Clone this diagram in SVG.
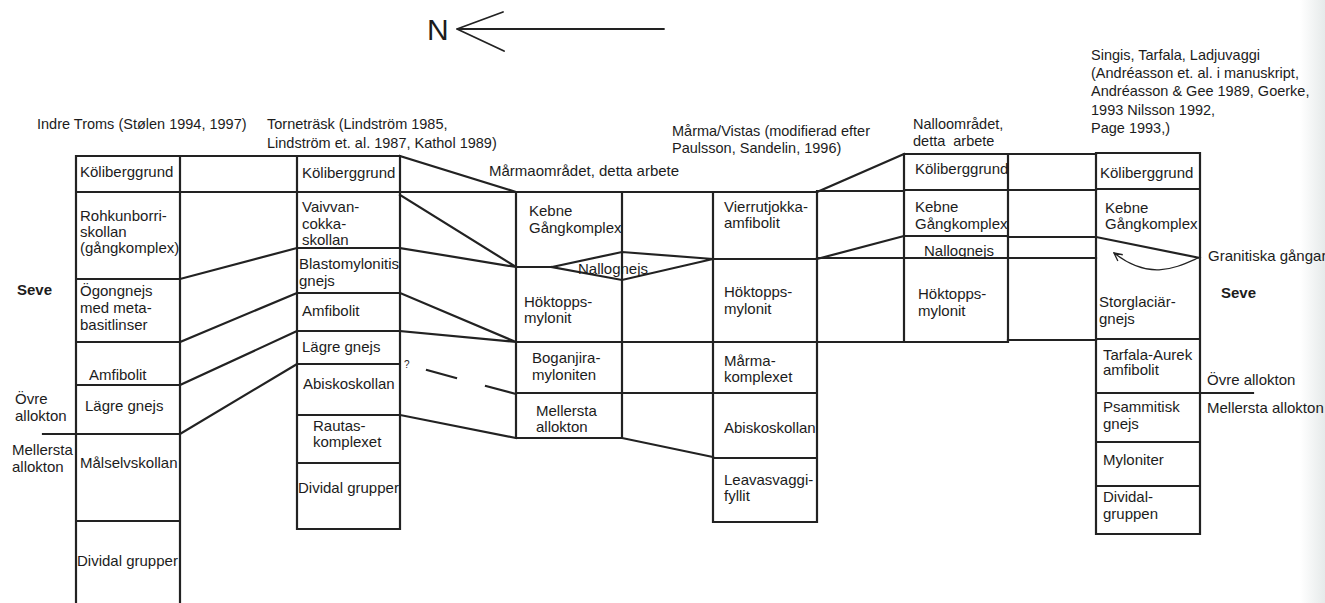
<svg xmlns="http://www.w3.org/2000/svg" width="1325" height="603" viewBox="0 0 1325 603">
  <style>
    .ln { stroke: #222; stroke-width: 2.2; fill: none; stroke-linecap: square; }
    .thin { stroke: #222; stroke-width: 1.2; fill: none; stroke-linecap: round; }
    .t { font-family: "Liberation Sans", Arial, Helvetica, sans-serif; font-size: 15px; fill: #1c1c1c; }
    .h { font-size: 14.5px; }
    .b { font-weight: bold; }
    .q { font-size: 10px; }
  </style>
  <defs>
    <clipPath id="clipC1"><rect x="77" y="150" width="102" height="460"/></clipPath>
    <clipPath id="clipC2"><rect x="298" y="150" width="101" height="380"/></clipPath>
    <clipPath id="clipC3"><rect x="517" y="190" width="104" height="250"/></clipPath>
    <marker id="openHead" viewBox="0 0 10 10" refX="9" refY="5" markerWidth="10" markerHeight="10" orient="auto" markerUnits="userSpaceOnUse">
      <path d="M1,1 L9,5 L1,9" fill="none" stroke="#222" stroke-width="1.3"/>
    </marker>
    <linearGradient id="edgeShade" x1="0" x2="1" y1="0" y2="0">
      <stop offset="0" stop-color="#ffffff"/>
      <stop offset="1" stop-color="#e6eaea"/>
    </linearGradient>
  </defs>

  <rect width="1325" height="603" fill="#ffffff"/>
  <rect x="1300" y="0" width="25" height="603" fill="url(#edgeShade)"/>

  <!-- north arrow -->
  <g id="north">
    <text class="t" x="427" y="40" style="font-size:30px">N</text>
    <path class="ln" d="M457,29 H664 M503,12 L457,29 L504,51" style="stroke-width:1.8;stroke-linecap:round;stroke-linejoin:round"/>
  </g>

  <!-- column headings -->
  <g id="headings">
    <text class="t h" x="37" y="129">Indre Troms (Stølen 1994, 1997)</text>
    <text class="t h" x="267" y="129">Torneträsk (Lindström 1985,<tspan x="267" dy="19">Lindström et. al. 1987, Kathol 1989)</tspan></text>
    <text class="t" x="489" y="176">Mårmaområdet, detta arbete</text>
    <text class="t h" x="672" y="136">Mårma/Vistas (modifierad efter<tspan x="672" dy="17">Paulsson, Sandelin, 1996)</tspan></text>
    <text class="t h" x="913" y="129">Nalloområdet,<tspan x="913" dy="17">detta&#160; arbete</tspan></text>
    <text class="t h" x="1091" y="60">Singis, Tarfala, Ladjuvaggi<tspan x="1091" dy="18.2">(Andréasson et. al. i manuskript,</tspan><tspan x="1091" dy="18.2">Andréasson &amp; Gee 1989, Goerke,</tspan><tspan x="1091" dy="18.2">1993 Nilsson 1992,</tspan><tspan x="1091" dy="18.2">Page 1993,)</tspan></text>
  </g>

  <!-- tectonic unit labels beside the columns -->
  <g id="unit-labels">
    <text class="t b" x="17" y="295">Seve</text>
    <text class="t" x="15" y="404">Övre<tspan x="15" dy="17">allokton</tspan></text>
    <text class="t" x="12" y="455">Mellersta<tspan x="12" dy="17">allokton</tspan></text>
    <path class="ln" d="M43,434 H76"/>
    <text class="t b" x="1221" y="298">Seve</text>
    <text class="t" x="1207" y="385">Övre allokton</text>
    <text class="t" x="1207" y="413">Mellersta allokton</text>
    <path class="ln" d="M1200,393 H1253"/>
  </g>

  <!-- Indre Troms column -->
  <g id="col-indre-troms">
    <path class="ln" d="M76,156 V610 M180,156 V610 M76,156 H180 M76,192 H180 M76,279 H180 M76,342 H180 M76,385 H180 M76,434 H180 M76,521 H180"/>
    <g clip-path="url(#clipC1)">
      <g id="it-koliberggrund"><text class="t" x="80" y="177">Köliberggrund</text></g>
      <g id="it-rohkunborri"><text class="t" x="80" y="221">Rohkunborri-<tspan x="80" dy="16">skollan</tspan><tspan x="80" dy="16">(gångkomplex)</tspan></text></g>
      <g id="it-ogongnejs"><text class="t" x="80" y="296">Ögongnejs<tspan x="80" dy="17">med meta-</tspan><tspan x="80" dy="17">basitlinser</tspan></text></g>
      <g id="it-amfibolit"><text class="t" x="89" y="380">Amfibolit</text></g>
      <g id="it-lagre-gnejs"><text class="t" x="85" y="411">Lägre gnejs</text></g>
      <g id="it-malselvskollan"><text class="t" x="80" y="468">Målselvskollan</text></g>
      <g id="it-dividal"><text class="t" x="77" y="566">Dividal grupper</text></g>
    </g>
  </g>

  <!-- Torneträsk column -->
  <g id="col-tornetrask">
    <path class="ln" d="M297,156 V529 M400,156 V529 M297,156 H400 M297,192 H400 M297,248 H400 M297,293 H400 M297,331 H400 M297,364 H400 M297,415 H400 M297,463 H400 M297,529 H400"/>
    <g clip-path="url(#clipC2)">
      <g id="tt-koliberggrund"><text class="t" x="302" y="178">Köliberggrund</text></g>
      <g id="tt-vaivvancokka"><text class="t" x="302" y="212">Vaivvan-<tspan x="302" dy="17">cokka-</tspan><tspan x="302" dy="16">skollan</tspan></text></g>
      <g id="tt-blastomylonitisk"><text class="t" x="299" y="269">Blastomylonitisk<tspan x="299" dy="17">gnejs</tspan></text></g>
      <g id="tt-amfibolit"><text class="t" x="302" y="316">Amfibolit</text></g>
      <g id="tt-lagre-gnejs"><text class="t" x="302" y="352">Lägre gnejs</text></g>
      <g id="tt-abiskoskollan"><text class="t" x="303" y="389">Abiskoskollan</text></g>
      <g id="tt-rautas"><text class="t" x="313" y="431">Rautas-<tspan x="313" dy="16">komplexet</tspan></text></g>
      <g id="tt-dividal"><text class="t" x="298" y="493">Dividal grupper</text></g>
    </g>
  </g>

  <!-- Mårmaområdet column -->
  <g id="col-marmaomradet">
    <path class="ln" d="M516,192 V438 M622,192 V438 M516,192 H622 M516,267 H552 M516,342 H622 M516,393 H622 M516,438 H622"/>
    <g clip-path="url(#clipC3)">
      <g id="ma-kebne"><text class="t" x="529" y="216">Kebne<tspan x="529" dy="17">Gångkomplex</tspan></text></g>
      <g id="ma-hoktopps"><text class="t" x="524" y="307">Höktopps-<tspan x="524" dy="16">mylonit</tspan></text></g>
      <g id="ma-boganjira"><text class="t" x="532" y="363">Boganjira-<tspan x="532" dy="17">myloniten</tspan></text></g>
      <g id="ma-mellersta"><text class="t" x="536" y="416">Mellersta<tspan x="536" dy="16">allokton</tspan></text></g>
    </g>
    <g id="ma-nallognejs">
      <path class="ln" d="M552,267 L622,252 L713,259 M552,267 L622,280 L713,259"/>
      <text class="t" x="578" y="274">Nallognejs</text>
    </g>
  </g>

  <!-- Mårma/Vistas column -->
  <g id="col-marma-vistas">
    <path class="ln" d="M713,192 V522 M817,192 V522 M713,192 H817 M713,259 H817 M713,342 H817 M713,393 H817 M713,458 H817 M713,522 H817"/>
    <g id="mv-vierrutjokka"><text class="t" x="724" y="212">Vierrutjokka-<tspan x="724" dy="16">amfibolit</tspan></text></g>
    <g id="mv-hoktopps"><text class="t" x="724" y="297">Höktopps-<tspan x="724" dy="17">mylonit</tspan></text></g>
    <g id="mv-marmakomplexet"><text class="t" x="724" y="366">Mårma-<tspan x="724" dy="16">komplexet</tspan></text></g>
    <g id="mv-abiskoskollan"><text class="t" x="724" y="433">Abiskoskollan</text></g>
    <g id="mv-leavasvaggi"><text class="t" x="724" y="485">Leavasvaggi-<tspan x="724" dy="16">fyllit</tspan></text></g>
  </g>

  <!-- Nalloområdet column -->
  <g id="col-nalloomradet">
    <path class="ln" d="M904,154 V342 M1008,154 V342 M904,154 H1008 M904,190 H1008 M904,236 H1008 M904,258 H1008 M904,342 H1008"/>
    <g id="na-koliberggrund"><text class="t" x="915" y="174">Köliberggrund</text></g>
    <g id="na-kebne"><text class="t" x="915" y="212">Kebne<tspan x="915" dy="17">Gångkomplex</tspan></text></g>
    <g id="na-nallognejs"><text class="t" x="924" y="256">Nallognejs</text></g>
    <g id="na-hoktopps"><text class="t" x="918" y="299">Höktopps-<tspan x="918" dy="17">mylonit</tspan></text></g>
  </g>

  <!-- Singis / Tarfala / Ladjuvaggi column -->
  <g id="col-singis">
    <path class="ln" d="M1096,153 V534 M1200,153 V534 M1096,153 H1200 M1096,189 H1200 M1096,237 L1200,258 M1096,339 H1200 M1096,393 H1200 M1096,442 H1200 M1096,486 H1200 M1096,534 H1200"/>
    <g id="si-koliberggrund"><text class="t" x="1100" y="178">Köliberggrund</text></g>
    <g id="si-kebne"><text class="t" x="1105" y="213">Kebne<tspan x="1105" dy="16">Gångkomplex</tspan></text></g>
    <g id="si-storglaciar"><text class="t" x="1099" y="307">Storglaciär-<tspan x="1099" dy="17">gnejs</tspan></text></g>
    <g id="si-tarfala-aurek"><text class="t" x="1103" y="360">Tarfala-Aurek<tspan x="1103" dy="15">amfibolit</tspan></text></g>
    <g id="si-psammitisk"><text class="t" x="1103" y="412">Psammitisk<tspan x="1103" dy="17">gnejs</tspan></text></g>
    <g id="si-myloniter"><text class="t" x="1103" y="465">Myloniter</text></g>
    <g id="si-dividal"><text class="t" x="1103" y="502">Dividal-<tspan x="1103" dy="17">gruppen</tspan></text></g>
    <g id="si-granitiska">
      <text class="t" x="1208" y="261">Granitiska gångar</text>
      <path class="thin" d="M1198,258 C1175,268 1150,281 1114,253" marker-end="url(#openHead)"/>
    </g>
  </g>

  <!-- correlation lines between the columns -->
  <g id="connectors">
    <path class="ln" d="M180,156 H297 M180,192 H297 M180,279 L297,248 M180,342 L297,293 M180,385 L297,331 M180,434 L297,364"/>
    <path class="ln" d="M400,156 L516,192 M400,192 H516 M400,195 L516,267 M400,248 L516,267 M400,293 L516,342 M400,331 L516,342 M400,415 L516,438"/>
    <path class="ln" d="M427,370 L456,378 M486,386 L516,394"/>
    <text class="t q" x="404" y="368">?</text>
    <path class="ln" d="M622,192 H713 M622,342 H713 M622,393 H713 M622,438 L713,457"/>
    <path class="ln" d="M817,192 L904,154 M817,191 H904 M817,259 L904,236 M817,258 H904 M817,342 H904"/>
    <path class="ln" d="M1008,154 H1096 M1008,190 H1096 M1008,237 H1096 M1008,258 H1096 M1008,340 H1096"/>
  </g>
</svg>
